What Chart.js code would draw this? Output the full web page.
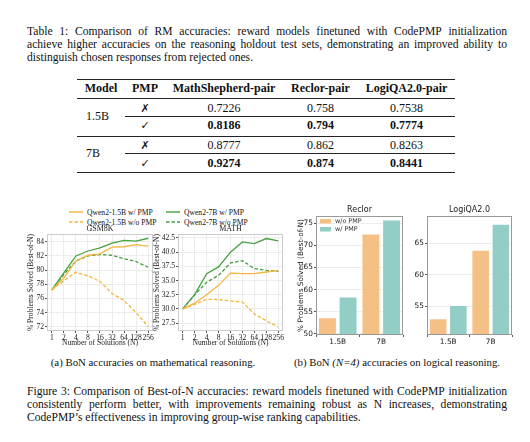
<!DOCTYPE html>
<html>
<head>
<meta charset="utf-8">
<script src="https://cdn.jsdelivr.net/npm/chart.js@4.4.1/dist/chart.umd.min.js"></script>
<style>
  body { margin: 0; width: 530px; height: 442px; background: #fff; position: relative; overflow: hidden;
         font-family: "Liberation Serif", "Times New Roman", serif; color: #111; }
  .line { position: absolute; left: 27px; width: 480px; font-size: 11.6px; white-space: nowrap; }
  .just { display: flex; justify-content: space-between; }
  .rule { position: absolute; border-top: 1px solid #222; height: 0; }
  .cell { position: absolute; transform: translate(-50%, -50%); font-size: 12px; white-space: nowrap; }
  .leg { position: absolute; font-size: 7.6px; white-space: nowrap; display: flex; align-items: center; }
  .leg svg { margin-right: 4px; }
  canvas { position: absolute; }
</style>
</head>
<body>
<div id="page"></div>
<canvas id="gsm" width="134" height="126" style="left:26px;top:224px"></canvas>
<canvas id="math" width="138" height="126" style="left:152px;top:224px"></canvas>
<canvas id="reclor" width="109" height="145" style="left:297px;top:205px"></canvas>
<canvas id="logiqa" width="105" height="145" style="left:410px;top:205px"></canvas>
<script>
// ---- text ----
const tableCaption = [
  "Table 1: Comparison of RM accuracies: reward models finetuned with CodePMP initialization",
  "achieve higher accuracies on the reasoning holdout test sets, demonstrating an improved ability to",
  "distinguish chosen responses from rejected ones."
];
const figureCaption = [
  "Figure 3: Comparison of Best-of-N accuracies: reward models finetuned with CodePMP initialization",
  "consistently perform better, with improvements remaining robust as N increases, demonstrating",
  "CodePMP\u2019s effectiveness in improving group-wise ranking capabilities."
];

// ---- table data ----
const tableHeader = ["Model", "PMP", "MathShepherd-pair", "Reclor-pair", "LogiQA2.0-pair"];
const modelSizes = ["1.5B", "7B"];
const pmpMarks = ["\u2717", "\u2713", "\u2717", "\u2713"];
const mathShepherdAcc = ["0.7226", "0.8186", "0.8777", "0.9274"];
const reclorAcc = ["0.758", "0.794", "0.862", "0.874"];
const logiqaAcc = ["0.7538", "0.7774", "0.8263", "0.8441"];

// ---- BoN line charts ----
const numSolutions = [1, 2, 4, 8, 16, 32, 64, 128, 256];
const gsmQwen15W  = [77.2, 78.9, 81.3, 82.1, 82.3, 83.25, 83.3, 83.6, 83.4];
const gsmQwen15Wo = [77.2, 78.5, 79.7, 79.2, 78.4, 76.7, 75.7, 74.0, 72.0];
const gsmQwen7W   = [77.2, 79.6, 82.0, 82.7, 83.15, 83.8, 84.2, 84.1, 84.5];
const gsmQwen7Wo  = [77.2, 79.4, 81.3, 82.0, 82.2, 82.1, 81.6, 81.2, 80.4];
const mathQwen15W  = [30.0, 31.0, 32.5, 34.15, 36.3, 36.2, 36.2, 36.5, 36.8];
const mathQwen15Wo = [30.0, 30.8, 31.7, 31.65, 31.4, 31.2, 29.1, 27.9, 26.8];
const mathQwen7W   = [30.0, 32.5, 36.2, 37.4, 40.0, 41.8, 41.5, 42.4, 42.0];
const mathQwen7Wo  = [30.0, 32.5, 34.7, 35.9, 38.1, 38.5, 37.1, 36.8, 36.6];

// ---- BoN (N=4) bar charts ----
const barGroups = ["1.5B", "7B"];
const reclorWo = [53.5, 72.5];
const reclorW  = [58.2, 75.7];
const logiqaWo = [53.0, 63.8];
const logiqaW  = [55.1, 67.9];

const ORANGE = "#f6b53c", GREEN = "#46a03f";
const BAR_ORANGE = "#f5c085", BAR_TEAL = "#93cec6";
const SERIF = "Liberation Serif";
const SANS = "DejaVu Sans";

const page = document.getElementById("page");
function add(html) { page.insertAdjacentHTML("beforeend", html); }

function caption(lines, top, step) {
  lines.forEach((t, i) => {
    const y = top + i * step;
    if (i < lines.length - 1) {
      add(`<div class="line just" style="top:${y}px">${t.split(" ").map(w => `<span>${w}</span>`).join("")}</div>`);
    } else {
      add(`<div class="line" style="top:${y}px">${t}</div>`);
    }
  });
}
caption(tableCaption, 25, 13);
caption(figureCaption, 385, 13);

// table rules
[[79, 77, 455, 1.3], [98, 77, 455, 0.7], [116, 125, 455, 0.6], [136, 77, 455, 0.7], [153, 125, 455, 0.6], [172, 77, 455, 1.3]]
  .forEach(([y, x1, x2, w]) => add(`<div class="rule" style="top:${y}px;left:${x1}px;width:${x2 - x1}px;border-top-width:${w}px"></div>`));

const colX = [101, 145, 224, 320.5, 406.5];
const headY = 88, rowY = [108, 125, 145, 163];
tableHeader.forEach((h, i) => add(`<div class="cell" style="left:${colX[i]}px;top:${headY}px;font-weight:bold">${h}</div>`));
modelSizes.forEach((m, i) => add(`<div class="cell" style="left:86px;top:${i ? 153 : 116}px;transform:translate(0,-50%)">${m}</div>`));
rowY.forEach((y, r) => {
  const b = r % 2 === 1 ? "font-weight:bold;" : "";
  add(`<div class="cell" style="left:${colX[1]}px;top:${y}px;font-family:'DejaVu Sans';font-size:11px">${pmpMarks[r]}</div>`);
  [mathShepherdAcc, reclorAcc, logiqaAcc].forEach((col, c) =>
    add(`<div class="cell" style="left:${colX[c + 2]}px;top:${y}px;${b}">${col[r]}</div>`));
});

// sub captions
add(`<div class="cell" style="left:153px;top:362px;font-size:10.8px">(a) BoN accuracies on mathematical reasoning.</div>`);
add(`<div class="cell" style="left:397px;top:362px;font-size:10.8px">(b) BoN <i>(N=4)</i> accuracies on logical reasoning.</div>`);

// line legend (html)
function legItem(x, y, color, dash, text) {
  add(`<div class="leg" style="left:${x}px;top:${y - 5}px;height:10px"><svg width="14" height="4"><line x1="0" y1="2" x2="14" y2="2" stroke="${color}" stroke-width="1.4" ${dash ? 'stroke-dasharray="3.5,2"' : ""}/></svg>${text}</div>`);
}
legItem(69, 212, ORANGE, false, "Qwen2-1.5B w/ PMP");
legItem(69, 222, ORANGE, true, "Qwen2-1.5B w/o PMP");
legItem(166, 212, GREEN, false, "Qwen2-7B w/ PMP");
legItem(166, 222, GREEN, true, "Qwen2-7B w/o PMP");

// ---- charts ----
const frameBox = color => ({
  id: "frameBox",
  afterDraw(chart) {
    const { ctx, chartArea: a } = chart;
    ctx.save();
    ctx.strokeStyle = color;
    ctx.lineWidth = 1;
    ctx.strokeRect(Math.round(a.left) + 0.5, Math.round(a.top) + 0.5, Math.round(a.width) - 1, Math.round(a.height) - 1);
    ctx.restore();
  }
});

// legend drawn inside the plot, top left
const innerLegend = {
  id: "innerLegend",
  afterDraw(chart, args, opts) {
    if (!opts.show) return;
    const { ctx, chartArea: a } = chart;
    ctx.save();
    ctx.font = '6.4px "DejaVu Sans"';
    ctx.textBaseline = "middle";
    chart.data.datasets.forEach((ds, i) => {
      const y = a.top + 5 + i * 8;
      ctx.fillStyle = ds.backgroundColor;
      ctx.fillRect(a.left + 4, y - 2, 11, 4.5);
      ctx.fillStyle = "#333";
      ctx.fillText(ds.label, a.left + 19, y);
    });
    ctx.restore();
  }
};

const noPad = s => { s.paddingLeft = 0; s.paddingRight = 0; };

function lineChart(id, title, series, yMin, yMax, yStep, yFmt, yWidth) {
  const f = { family: SERIF, size: 7.6 };
  return new Chart(document.getElementById(id), {
    type: "line",
    data: {
      datasets: series.map(s => ({
        data: numSolutions.map((n, i) => ({ x: n, y: s.values[i] })),
        borderColor: s.color,
        borderDash: s.dash ? [3.5, 2] : [],
        borderWidth: 1.3,
        pointRadius: 0,
        tension: 0
      }))
    },
    options: {
      responsive: false,
      animation: false,
      layout: { padding: { left: 0, right: 7, top: 0, bottom: 0 } },
      plugins: {
        legend: { display: false },
        tooltip: { enabled: false },
        title: { display: true, fullSize: false, text: title, color: "#222", font: { family: SERIF, size: 8, weight: "normal" }, padding: { top: 0, bottom: 0.4 } }
      },
      scales: {
        x: {
          type: "logarithmic",
          min: Math.pow(2, -0.4),
          max: Math.pow(2, 8.4),
          afterBuildTicks: s => { s.ticks = numSolutions.map(v => ({ value: v })); },
          afterFit: s => { s.height = 19; noPad(s); },
          ticks: { autoSkip: false, maxRotation: 0, padding: 0, color: "#222", font: f, callback: v => String(v) },
          grid: { color: "#ececec", tickColor: "#555", tickLength: 2 },
          border: { display: false },
          title: { display: true, text: "Number of Solutions (N)", color: "#222", font: f, padding: { top: 0, bottom: 2 } }
        },
        y: {
          min: yMin,
          max: yMax,
          afterFit: s => { s.width = yWidth; s.paddingTop = 0; s.paddingBottom = 0; },
          ticks: { stepSize: yStep, includeBounds: false, padding: 1, color: "#222", font: f, callback: yFmt },
          grid: { color: "#ececec", tickColor: "#555", tickLength: 2 },
          border: { display: false },
          title: { display: true, text: "% Problems Solved (Best-of-N)", color: "#222", font: f, padding: 0 }
        }
      }
    },
    plugins: [frameBox("#cccccc")]
  });
}

lineChart("gsm", "GSM8K", [
  { values: gsmQwen15W, color: ORANGE, dash: false },
  { values: gsmQwen15Wo, color: ORANGE, dash: true },
  { values: gsmQwen7W, color: GREEN, dash: false },
  { values: gsmQwen7Wo, color: GREEN, dash: true }
], 71.4, 85.1, 2, v => String(v), 21);

lineChart("math", "MATH", [
  { values: mathQwen15W, color: ORANGE, dash: false },
  { values: mathQwen15Wo, color: ORANGE, dash: true },
  { values: mathQwen7W, color: GREEN, dash: false },
  { values: mathQwen7Wo, color: GREEN, dash: true }
], 26.1, 43.2, 2.5, v => Number(v).toFixed(1), 26);

function barChart(id, title, wo, w, yMin, yMax, yWidth, padRight, first) {
  const f = { family: SANS, size: 7.4 };
  return new Chart(document.getElementById(id), {
    type: "bar",
    data: {
      labels: barGroups,
      datasets: [
        { label: "w/o PMP", data: wo, backgroundColor: BAR_ORANGE, borderWidth: 0 },
        { label: "w/ PMP", data: w, backgroundColor: BAR_TEAL, borderWidth: 0 }
      ]
    },
    options: {
      responsive: false,
      animation: false,
      categoryPercentage: 0.95,
      barPercentage: 0.82,
      layout: { padding: { left: 0, right: padRight, top: 0, bottom: 0 } },
      plugins: {
        legend: { display: false },
        innerLegend: { show: first },
        tooltip: { enabled: false },
        title: { display: true, fullSize: false, text: title, color: "#222", font: { family: SANS, size: 8, weight: "normal" }, padding: { top: 0, bottom: 1.4 } }
      },
      scales: {
        x: {
          afterFit: s => { s.height = 15; noPad(s); },
          ticks: { padding: 1, color: "#222", font: f },
          grid: { display: true, drawOnChartArea: false, tickColor: "#555", tickLength: 2 },
          border: { display: false }
        },
        y: {
          min: yMin,
          max: yMax,
          afterFit: s => { s.width = yWidth; },
          ticks: { stepSize: 5, includeBounds: false, padding: 1, color: "#222", font: f },
          grid: { color: "#ededed", tickColor: "#555", tickLength: 2 },
          border: { display: false },
          title: { display: first, text: "% Problems Solved (Best-of-N)", color: "#222", font: f, padding: 0 }
        }
      }
    },
    plugins: [frameBox("#999999"), innerLegend]
  });
}

barChart("reclor", "Reclor", reclorWo, reclorW, 49.7, 76.7, 19, 3, true);
barChart("logiqa", "LogiQA2.0", logiqaWo, logiqaW, 50.5, 69.3, 17, 3, false);
</script>
</body>
</html>
